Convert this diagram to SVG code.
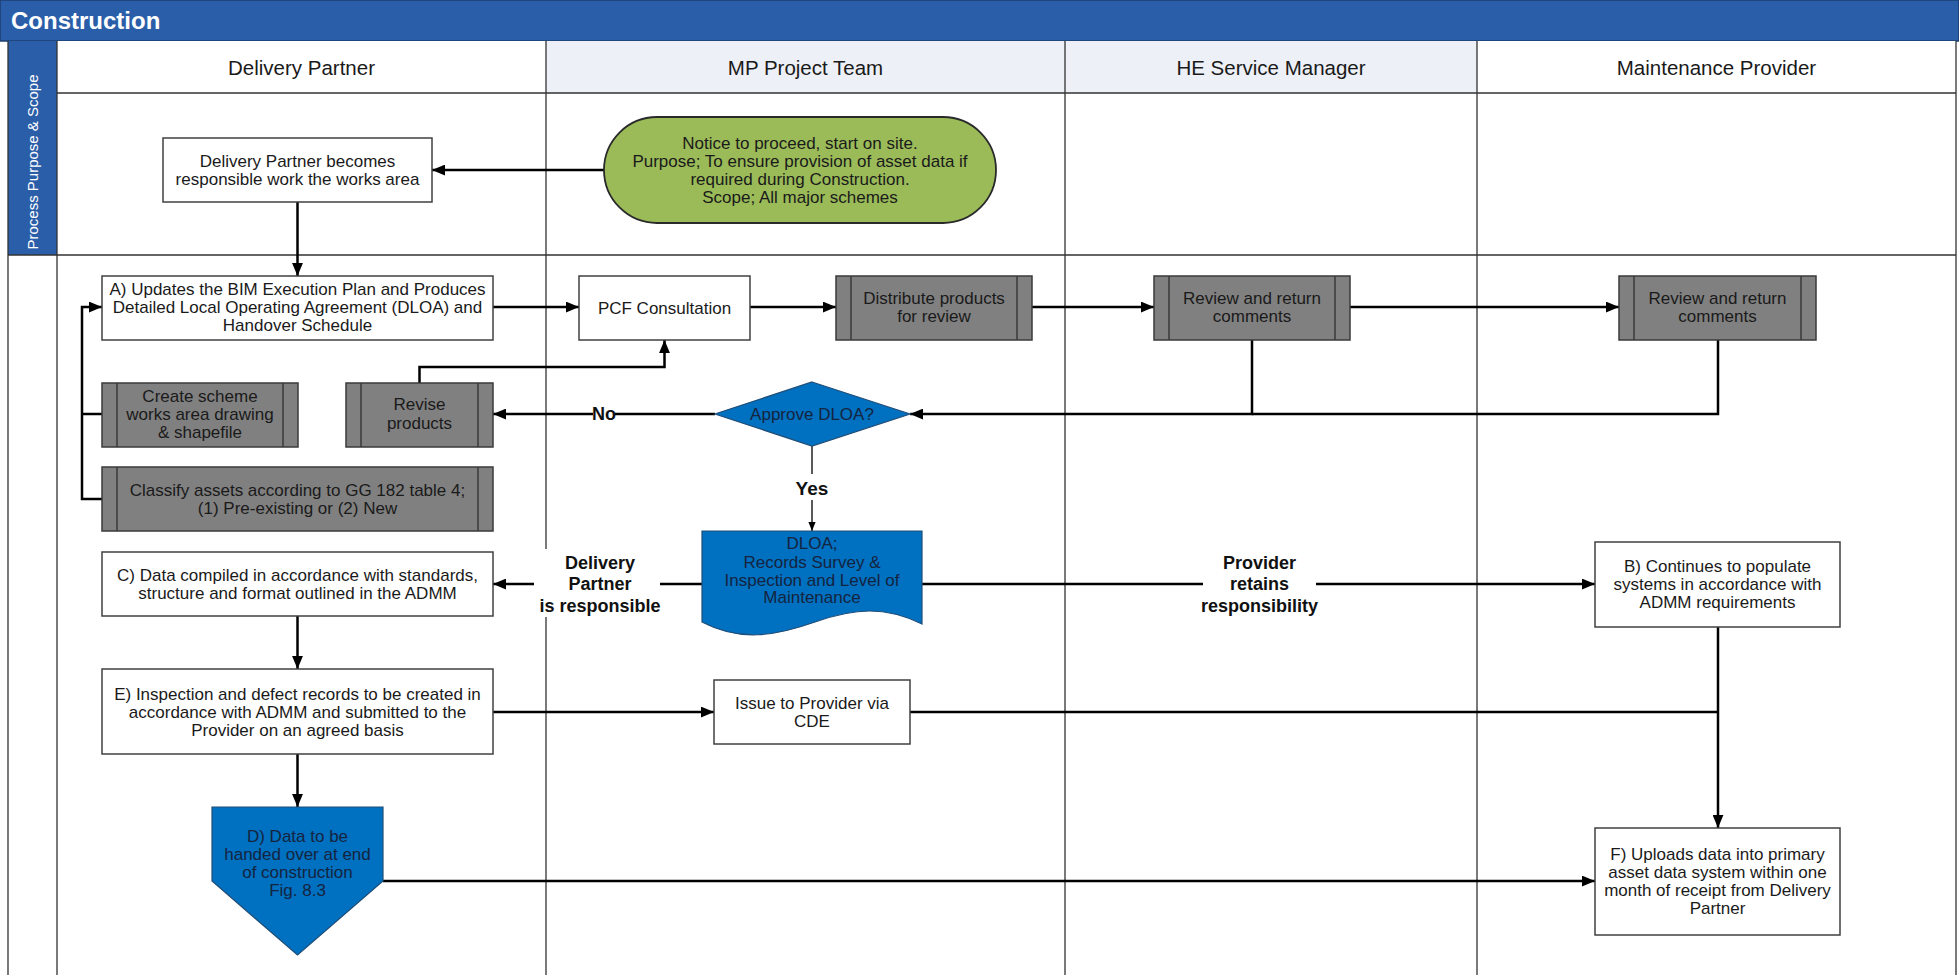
<svg xmlns="http://www.w3.org/2000/svg" width="1959" height="975" viewBox="0 0 1959 975">
  <style>
    text { font-family: "Liberation Sans", Arial, sans-serif; fill: #1a1a1a; }
    .hdr { font-size: 20.5px; text-anchor: middle; }
    .t { font-size: 17px; text-anchor: middle; }
    .tb { font-size: 17px; text-anchor: middle; fill: #15243f; }
    .lbl { font-size: 18px; font-weight: bold; text-anchor: middle; fill: #111; }
    .box { fill: #ffffff; stroke: #404040; stroke-width: 1.5; }
    .sub { fill: #808080; stroke: #3a3a3a; stroke-width: 1.5; }
    .subline { stroke: #3a3a3a; stroke-width: 1.5; }
    .blue { fill: #0070c0; stroke: #1f4e79; stroke-width: 1.2; }
    .lane { stroke: #333333; stroke-width: 1.3; fill: none; }
    .conn { stroke: #000000; stroke-width: 2.5; fill: none; }
    .thin { stroke: #000000; stroke-width: 1.3; fill: none; }
    .bg { fill: #ffffff; }
  </style>
  <defs>
    <marker id="arrow" markerUnits="userSpaceOnUse" viewBox="0 0 12 10" markerWidth="13" markerHeight="11" refX="12" refY="5" orient="auto">
      <path d="M0,0 L12,5 L0,10 z" fill="#000"/>
    </marker>
    <marker id="arrowSmall" markerUnits="userSpaceOnUse" viewBox="0 0 10 8" markerWidth="9" markerHeight="8" refX="10" refY="4" orient="auto">
      <path d="M0,0 L10,4 L0,8 z" fill="#000"/>
    </marker>
  </defs>

  <!-- page background -->
  <rect x="0" y="0" width="1959" height="975" fill="#ffffff"/>

  <!-- swimlane frame -->
  <g id="swimlanes">
    <rect x="0" y="0" width="1959" height="41" fill="#2a5ea8" stroke="#1d3f70" stroke-width="1.5"/>
    <text x="11" y="29" style="font-size:24px;font-weight:bold;fill:#ffffff">Construction</text>

    <rect x="57" y="41" width="489" height="52" fill="#ffffff"/>
    <rect x="546" y="41" width="519" height="52" fill="#edf0f6"/>
    <rect x="1065" y="41" width="412" height="52" fill="#edf0f6"/>
    <rect x="1477" y="41" width="479" height="52" fill="#ffffff"/>

    <rect x="8" y="41" width="49" height="214" fill="#2a5ea8"/>
    <text transform="translate(38,162) rotate(-90)" style="font-size:15px;fill:#ffffff;text-anchor:middle">Process Purpose &amp; Scope</text>

    <text class="hdr" x="301.5" y="75">Delivery Partner</text>
    <text class="hdr" x="805.5" y="75">MP Project Team</text>
    <text class="hdr" x="1271" y="75">HE Service Manager</text>
    <text class="hdr" x="1716.5" y="75">Maintenance Provider</text>

    <path class="lane" d="M57,93 H1956 M8,255 H1956"/>
    <path class="lane" d="M8,41 V975 M57,41 V975 M546,41 V975 M1065,41 V975 M1477,41 V975 M1956,41 V975"/>
  </g>

  <!-- connectors -->
  <g id="connectors">
    <path class="conn" d="M604,170 H432" marker-end="url(#arrow)"/>
    <path class="conn" d="M297.5,202 V276" marker-end="url(#arrow)"/>
    <path class="conn" d="M493,307 H579" marker-end="url(#arrow)"/>
    <path class="conn" d="M750,307 H836" marker-end="url(#arrow)"/>
    <path class="conn" d="M1032,307 H1154" marker-end="url(#arrow)"/>
    <path class="conn" d="M1350,307 H1619" marker-end="url(#arrow)"/>
    <path class="conn" d="M1718,340 V414 H1252"/>
    <path class="conn" d="M1252,340 V414 H910" marker-end="url(#arrow)"/>
    <path class="conn" d="M715,414 H493" marker-end="url(#arrow)"/>
    <path class="conn" d="M419.5,383 V367 H664.5 V340" marker-end="url(#arrow)"/>
    <path class="conn" d="M102,499 H82 V307 H102" marker-end="url(#arrow)"/>
    <path class="conn" d="M102,414 H82"/>
    <path class="thin" d="M812,446 V531" marker-end="url(#arrowSmall)"/>
    <path class="conn" d="M702,584 H493" marker-end="url(#arrow)"/>
    <path class="conn" d="M922,584 H1595" marker-end="url(#arrow)"/>
    <path class="conn" d="M297.5,616 V669" marker-end="url(#arrow)"/>
    <path class="conn" d="M493,712 H714" marker-end="url(#arrow)"/>
    <path class="conn" d="M910,712 H1718"/>
    <path class="conn" d="M1718,627 V828" marker-end="url(#arrow)"/>
    <path class="conn" d="M297.5,754 V807" marker-end="url(#arrow)"/>
    <path class="conn" d="M383,881 H1595" marker-end="url(#arrow)"/>

    <!-- connector labels -->
    <rect class="bg" x="593" y="403" width="22" height="22"/>
    <text class="lbl" x="604" y="420">No</text>
    <rect class="bg" x="792" y="474" width="40" height="26"/>
    <text class="lbl" x="812" y="495" style="font-size:19px">Yes</text>
    <rect class="bg" x="534" y="549" width="126" height="68"/>
    <text class="lbl" x="600" y="569">Delivery</text>
    <text class="lbl" x="600" y="590">Partner</text>
    <text class="lbl" x="600" y="612">is responsible</text>
    <rect class="bg" x="1203" y="549" width="113" height="68"/>
    <text class="lbl" x="1259.5" y="569">Provider</text>
    <text class="lbl" x="1259.5" y="590">retains</text>
    <text class="lbl" x="1259.5" y="612">responsibility</text>
  </g>

  <!-- nodes -->
  <g id="node-start">
    <rect x="604" y="117" width="392" height="106" rx="53" ry="53" fill="#9bbb59" stroke="#2a2a2a" stroke-width="1.8"/>
    <text class="t" x="800" y="149">Notice to proceed, start on site.</text>
    <text class="t" x="800" y="167">Purpose; To ensure provision of asset data if</text>
    <text class="t" x="800" y="185">required during Construction.</text>
    <text class="t" x="800" y="203">Scope; All major schemes</text>
  </g>

  <g id="node-responsible">
    <rect class="box" x="163" y="138" width="269" height="64"/>
    <text class="t" x="297.5" y="167">Delivery Partner becomes</text>
    <text class="t" x="297.5" y="185">responsible work the works area</text>
  </g>

  <g id="node-a">
    <rect class="box" x="102" y="276" width="391" height="64"/>
    <text class="t" x="297.5" y="295">A) Updates the BIM Execution Plan and Produces</text>
    <text class="t" x="297.5" y="313">Detailed Local Operating Agreement (DLOA) and</text>
    <text class="t" x="297.5" y="331">Handover Schedule</text>
  </g>

  <g id="node-pcf">
    <rect class="box" x="579" y="276" width="171" height="64"/>
    <text class="t" x="664.5" y="314">PCF Consultation</text>
  </g>

  <g id="node-distribute">
    <rect class="sub" x="836" y="276" width="196" height="64"/>
    <path class="subline" d="M851,276 V340 M1017,276 V340"/>
    <text class="t" x="934" y="304">Distribute products</text>
    <text class="t" x="934" y="322">for review</text>
  </g>

  <g id="node-review-he">
    <rect class="sub" x="1154" y="276" width="196" height="64"/>
    <path class="subline" d="M1169,276 V340 M1335,276 V340"/>
    <text class="t" x="1252" y="304">Review and return</text>
    <text class="t" x="1252" y="322">comments</text>
  </g>

  <g id="node-review-mp">
    <rect class="sub" x="1619" y="276" width="197" height="64"/>
    <path class="subline" d="M1634,276 V340 M1801,276 V340"/>
    <text class="t" x="1717.5" y="304">Review and return</text>
    <text class="t" x="1717.5" y="322">comments</text>
  </g>

  <g id="node-create">
    <rect class="sub" x="102" y="383" width="196" height="64"/>
    <path class="subline" d="M117,383 V447 M283,383 V447"/>
    <text class="t" x="200" y="402">Create scheme</text>
    <text class="t" x="200" y="420">works area drawing</text>
    <text class="t" x="200" y="438">&amp; shapefile</text>
  </g>

  <g id="node-revise">
    <rect class="sub" x="346" y="383" width="147" height="64"/>
    <path class="subline" d="M361,383 V447 M478,383 V447"/>
    <text class="t" x="419.5" y="410">Revise</text>
    <text class="t" x="419.5" y="429">products</text>
  </g>

  <g id="node-approve">
    <polygon class="blue" points="812,382 910,414 812,446 715,414"/>
    <text class="tb" x="812" y="420">Approve DLOA?</text>
  </g>

  <g id="node-classify">
    <rect class="sub" x="102" y="467" width="391" height="64"/>
    <path class="subline" d="M117,467 V531 M478,467 V531"/>
    <text class="t" x="297.5" y="496">Classify assets according to GG 182 table 4;</text>
    <text class="t" x="297.5" y="514">(1) Pre-existing or (2) New</text>
  </g>

  <g id="node-dloa">
    <path class="blue" d="M702,531 H922 V624 C885,606 855,608 815,622 C775,636 740,642 702,622 Z"/>
    <text class="tb" x="812" y="549">DLOA;</text>
    <text class="tb" x="812" y="568">Records Survey &amp;</text>
    <text class="tb" x="812" y="586">Inspection and Level of</text>
    <text class="tb" x="812" y="603">Maintenance</text>
  </g>

  <g id="node-c">
    <rect class="box" x="102" y="552" width="391" height="64"/>
    <text class="t" x="297.5" y="581">C) Data compiled in accordance with standards,</text>
    <text class="t" x="297.5" y="599">structure and format outlined in the ADMM</text>
  </g>

  <g id="node-b">
    <rect class="box" x="1595" y="542" width="245" height="85"/>
    <text class="t" x="1717.5" y="572">B) Continues to populate</text>
    <text class="t" x="1717.5" y="590">systems in accordance with</text>
    <text class="t" x="1717.5" y="608">ADMM requirements</text>
  </g>

  <g id="node-e">
    <rect class="box" x="102" y="669" width="391" height="85"/>
    <text class="t" x="297.5" y="700">E) Inspection and defect records to be created in</text>
    <text class="t" x="297.5" y="718">accordance with ADMM and submitted to the</text>
    <text class="t" x="297.5" y="736">Provider on an agreed basis</text>
  </g>

  <g id="node-issue">
    <rect class="box" x="714" y="680" width="196" height="64"/>
    <text class="t" x="812" y="709">Issue to Provider via</text>
    <text class="t" x="812" y="727">CDE</text>
  </g>

  <g id="node-d">
    <polygon class="blue" points="212,807 383,807 383,881 297.5,955 212,881"/>
    <text class="tb" x="297.5" y="842">D) Data to be</text>
    <text class="tb" x="297.5" y="860">handed over at end</text>
    <text class="tb" x="297.5" y="878">of construction</text>
    <text class="tb" x="297.5" y="896">Fig. 8.3</text>
  </g>

  <g id="node-f">
    <rect class="box" x="1595" y="828" width="245" height="107"/>
    <text class="t" x="1717.5" y="860">F) Uploads data into primary</text>
    <text class="t" x="1717.5" y="878">asset data system within one</text>
    <text class="t" x="1717.5" y="896">month of receipt from Delivery</text>
    <text class="t" x="1717.5" y="914">Partner</text>
  </g>
</svg>
